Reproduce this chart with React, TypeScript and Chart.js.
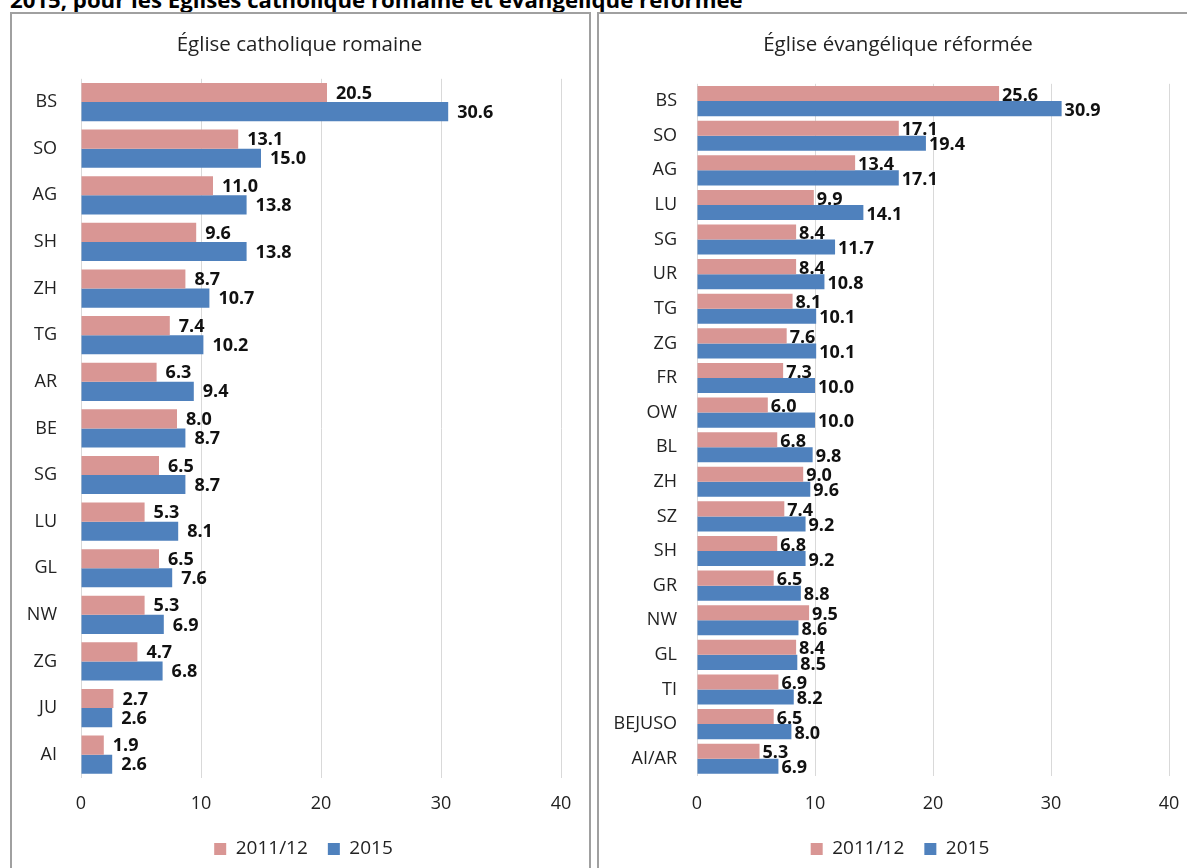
import React, { useEffect, useRef } from "react";
import { Chart, registerables } from "chart.js";

Chart.register(...registerables);

const catCategories = ["BS", "SO", "AG", "SH", "ZH", "TG", "AR", "BE", "SG", "LU", "GL", "NW", "ZG", "JU", "AI"];
const cat2011 = [20.5, 13.1, 11.0, 9.6, 8.7, 7.4, 6.3, 8.0, 6.5, 5.3, 6.5, 5.3, 4.7, 2.7, 1.9];
const cat2015 = [30.6, 15.0, 13.8, 13.8, 10.7, 10.2, 9.4, 8.7, 8.7, 8.1, 7.6, 6.9, 6.8, 2.6, 2.6];

const refCategories = ["BS", "SO", "AG", "LU", "SG", "UR", "TG", "ZG", "FR", "OW", "BL", "ZH", "SZ", "SH", "GR", "NW", "GL", "TI", "BEJUSO", "AI/AR"];
const ref2011 = [25.6, 17.1, 13.4, 9.9, 8.4, 8.4, 8.1, 7.6, 7.3, 6.0, 6.8, 9.0, 7.4, 6.8, 6.5, 9.5, 8.4, 6.9, 6.5, 5.3];
const ref2015 = [30.9, 19.4, 17.1, 14.1, 11.7, 10.8, 10.1, 10.1, 10.0, 10.0, 9.8, 9.6, 9.2, 9.2, 8.8, 8.6, 8.5, 8.2, 8.0, 6.9];

const seriesLabels = ["2011/12", "2015"];
const xTicks = [0, 10, 20, 30, 40];

const PINK = "#D99694";
const BLUE = "#4F81BD";
const FONT = "'Open Sans', Lato, sans-serif";

const valueLabels = {
  id: "valueLabels",
  afterDatasetsDraw(chart: any, _args: any, opts: any) {
    const ctx = chart.ctx;
    ctx.save();
    ctx.font = `bold ${opts.size || 18}px ${FONT}`;
    ctx.fillStyle = "#111";
    ctx.textAlign = "left";
    ctx.textBaseline = "middle";
    chart.data.datasets.forEach((ds: any, di: number) => {
      const meta = chart.getDatasetMeta(di);
      meta.data.forEach((bar: any, i: number) => {
        const v = ds.data[i];
        ctx.fillText(v.toFixed(1), bar.x + (opts.dx || 6), bar.y + (opts.dy || 0));
      });
    });
    ctx.restore();
  },
};

const boxShift = {
  id: "boxShift",
  afterLayout(chart: any, _args: any, opts: any) {
    const lg = chart.legend;
    if (lg) {
      const dx = opts.legendDx || 0;
      lg.left += dx;
      lg.right += dx;
      if (lg.legendHitBoxes) lg.legendHitBoxes.forEach((h: any) => (h.left += dx));
    }
    const tb = chart.titleBlock;
    if (tb) {
      const tdx = opts.titleDx || 0;
      tb.left += tdx;
      tb.right += tdx;
    }
  },
};

type PanelProps = {
  title: string;
  categories: string[];
  a: number[];
  b: number[];
  width: number;
  height: number;
  yWidth: number;
  yPad: number;
  padRight: number;
  titlePadBottom: number;
  xHeight: number;
  xTickPad: number;
  catPct: number;
  labelDx: number;
  labelDy: number;
  legendDx: number;
  titleDx: number;
};

function Panel(p: PanelProps) {
  const ref = useRef<HTMLCanvasElement | null>(null);
  useEffect(() => {
    if (!ref.current) return;
    const chart = new Chart(ref.current, {
      type: "bar",
      data: {
        labels: p.categories,
        datasets: [
          { label: seriesLabels[0], data: p.a, backgroundColor: PINK, borderWidth: 0, categoryPercentage: p.catPct, barPercentage: 1 },
          { label: seriesLabels[1], data: p.b, backgroundColor: BLUE, borderWidth: 0, categoryPercentage: p.catPct, barPercentage: 1 },
        ],
      },
      options: {
        indexAxis: "y",
        responsive: false,
        animation: false,
        devicePixelRatio: 1,
        layout: { padding: { left: 0, right: p.padRight, top: 0, bottom: 15.5 } },
        scales: {
          x: {
            min: 0,
            max: 40,
            afterBuildTicks: (s: any) => {
              s.ticks = xTicks.map((v) => ({ value: v }));
            },
            afterFit: (s: any) => {
              s.height = p.xHeight;
            },
            grid: { color: "#D9D9D9", drawTicks: false, lineWidth: 1 },
            border: { display: false },
            ticks: { padding: p.xTickPad, color: "#222", font: { family: FONT, size: 18 } },
          },
          y: {
            afterFit: (s: any) => {
              s.width = p.yWidth;
            },
            grid: { display: false, drawTicks: false },
            border: { display: false },
            ticks: { padding: p.yPad, color: "#222", font: { family: FONT, size: 18 } },
          },
        },
        plugins: {
          title: {
            display: true,
            text: p.title,
            color: "#222",
            font: { family: FONT, size: 20.5, weight: "normal" },
            padding: { top: 18.7, bottom: p.titlePadBottom },
          },
          legend: {
            position: "bottom",
            labels: {
              boxWidth: 12,
              boxHeight: 12,
              padding: 20,
              color: "#222",
              font: { family: FONT, size: 19 },
            },
          },
          tooltip: { enabled: false },
          valueLabels: { dx: p.labelDx, dy: p.labelDy, size: 18 },
          boxShift: { legendDx: p.legendDx, titleDx: p.titleDx },
        } as any,
      },
      plugins: [valueLabels, boxShift],
    });
    return () => chart.destroy();
  }, []);
  return <canvas ref={ref} width={p.width} height={p.height} style={{ display: "block", width: p.width, height: p.height }} />;
}

export default function App() {
  return (
    <div style={{ position: "absolute", left: 0, top: 0, width: 1187, height: 868, overflow: "hidden", background: "#fff", fontFamily: FONT }}>
      <div
        style={{
          position: "absolute",
          left: 10,
          top: -11.5,
          fontSize: 22.2,
          lineHeight: "22px",
          fontWeight: "bold",
          whiteSpace: "nowrap",
          color: "#000",
        }}
      >
        2015, pour les Églises catholique romaine et évangélique réformée
      </div>
      <div style={{ position: "absolute", left: 10, top: 12, width: 577, height: 872, border: "2px solid #a0a0a0", overflow: "hidden" }}>
        <Panel
          title="Église catholique romaine"
          categories={catCategories}
          a={cat2011}
          b={cat2015}
          width={577}
          height={870}
          yWidth={69}
          yPad={24}
          padRight={28}
          titlePadBottom={21.5}
          xHeight={41.5}
          xTickPad={15}
          catPct={0.82}
          labelDx={9}
          labelDy={1}
          legendDx={17}
          titleDx={13}
        />
      </div>
      <div style={{ position: "absolute", left: 597, top: 12, width: 620, height: 872, border: "2px solid #a0a0a0", overflow: "hidden" }}>
        <Panel
          title="Église évangélique réformée"
          categories={refCategories}
          a={ref2011}
          b={ref2015}
          width={600}
          height={870}
          yWidth={98}
          yPad={20}
          padRight={30}
          titlePadBottom={26.5}
          xHeight={43.5}
          xTickPad={17}
          catPct={0.87}
          labelDx={3}
          labelDy={2}
          legendDx={16}
          titleDx={14}
        />
      </div>
    </div>
  );
}
